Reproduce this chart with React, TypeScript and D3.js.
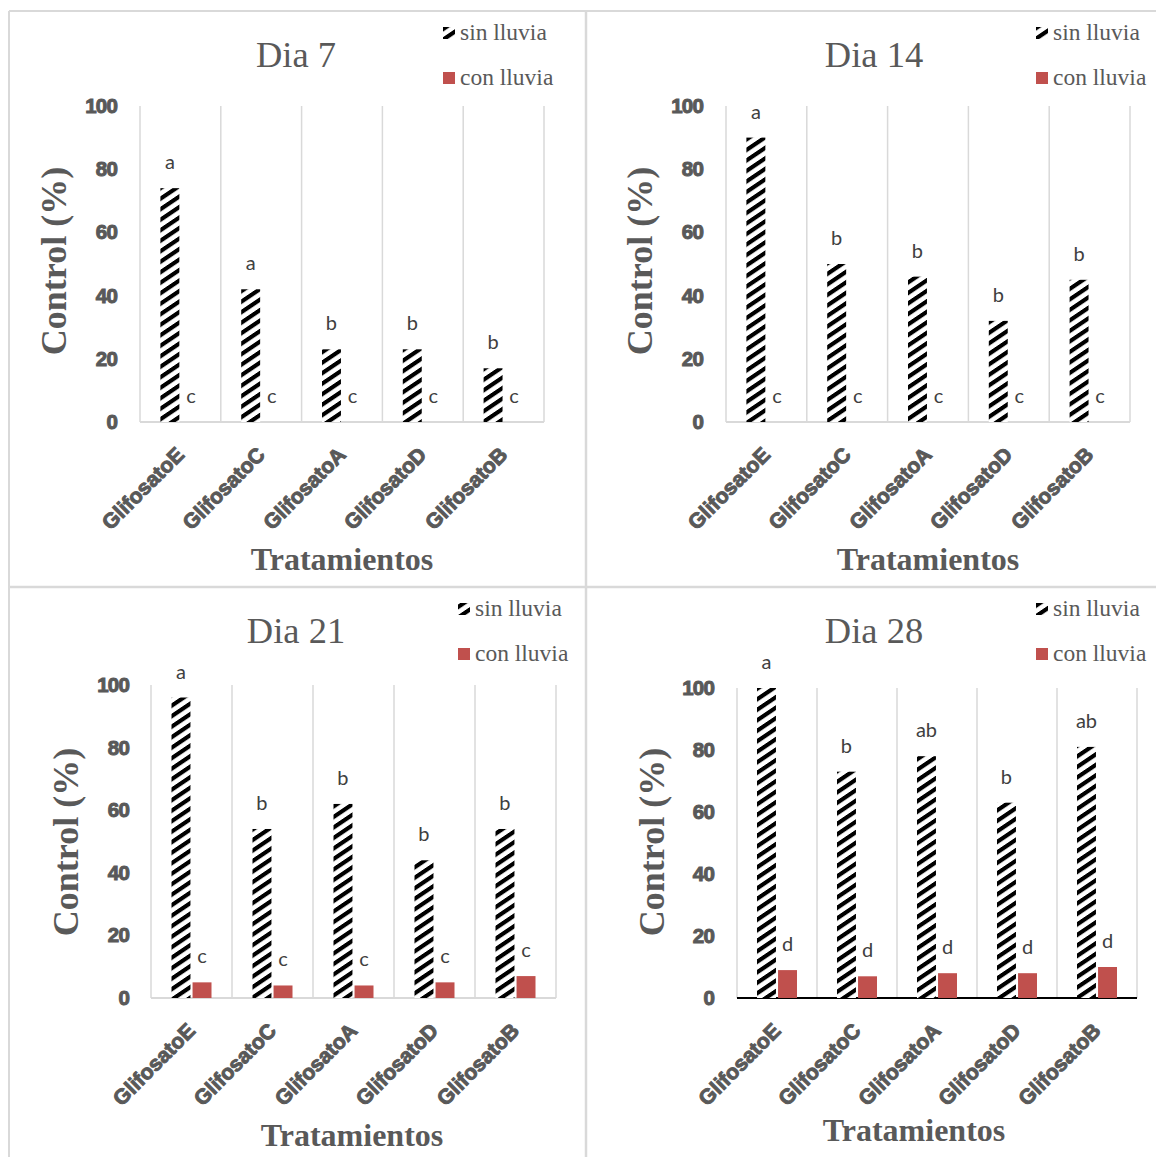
import React from "react";
import * as d3 from "d3";

const categories = ["GlifosatoE", "GlifosatoC", "GlifosatoA", "GlifosatoD", "GlifosatoB"];
const seriesNames = ["sin lluvia", "con lluvia"];
const panelTitles = ["Dia 7", "Dia 14", "Dia 21", "Dia 28"];
const yTicks = [0, 20, 40, 60, 80, 100];

const sin7 = [74, 42, 23, 23, 17];
const con7 = [0, 0, 0, 0, 0];
const sinLetters7 = ["a", "a", "b", "b", "b"];
const conLetters7 = ["c", "c", "c", "c", "c"];

const sin14 = [90, 50, 46, 32, 45];
const con14 = [0, 0, 0, 0, 0];
const sinLetters14 = ["a", "b", "b", "b", "b"];
const conLetters14 = ["c", "c", "c", "c", "c"];

const sin21 = [96, 54, 62, 44, 54];
const con21 = [5, 4, 4, 5, 7];
const sinLetters21 = ["a", "b", "b", "b", "b"];
const conLetters21 = ["c", "c", "c", "c", "c"];

const sin28 = [100, 73, 78, 63, 81];
const con28 = [9, 7, 8, 8, 10];
const sinLetters28 = ["a", "b", "ab", "b", "ab"];
const conLetters28 = ["d", "d", "d", "d", "d"];

const panelData = [
  { sin: sin7, con: con7, sinL: sinLetters7, conL: conLetters7 },
  { sin: sin14, con: con14, sinL: sinLetters14, conL: conLetters14 },
  { sin: sin21, con: con21, sinL: sinLetters21, conL: conLetters21 },
  { sin: sin28, con: con28, sinL: sinLetters28, conL: conLetters28 },
];

const layouts = [
  { x0: 140, x1: 544, yTop: 106, yBot: 422, tickX: 117, yTitleX: 66, yTitleY: 261, xTitleX: 342, xTitleY: 570, titleX: 296, titleY: 67, legX: 443, legY: [33, 78], axis: "#d9d9d9" },
  { x0: 726, x1: 1130, yTop: 106, yBot: 422, tickX: 703, yTitleX: 652, yTitleY: 261, xTitleX: 928, xTitleY: 570, titleX: 874, titleY: 67, legX: 1036, legY: [33, 78], axis: "#d9d9d9" },
  { x0: 151, x1: 556, yTop: 685, yBot: 998, tickX: 129, yTitleX: 78, yTitleY: 842, xTitleX: 352, xTitleY: 1146, titleX: 296, titleY: 643, legX: 458, legY: [609, 654], axis: "#d9d9d9" },
  { x0: 737, x1: 1137, yTop: 688, yBot: 998, tickX: 714, yTitleX: 664, yTitleY: 842, xTitleX: 914, xTitleY: 1141, titleX: 874, titleY: 643, legX: 1036, legY: [609, 654], axis: "#000000" },
];

const GRAY = "#595959";
const RED = "#c0504d";
const SERIF = "'Liberation Serif', 'Times New Roman', serif";
const SANS = "'Liberation Sans', Arial, sans-serif";
const LETTER_FONT = "Lato, 'Open Sans', sans-serif";

function Panel({ idx }: { idx: number }) {
  const L = layouts[idx];
  const D = panelData[idx];
  const x = d3.scaleBand<string>().domain(categories).range([L.x0, L.x1]).paddingInner(0).paddingOuter(0);
  const cw = x.bandwidth();
  const xs = d3.scaleBand<string>().domain(seriesNames).range([cw / 2 - 20, cw / 2 + 20]).paddingInner(0.1);
  const y = d3.scaleLinear().domain([0, 100]).range([L.yBot, L.yTop]);
  const bw = xs.bandwidth();
  const gridXs = categories.map((c) => x(c) as number).concat([L.x1]);

  return (
    <g>
      {gridXs.map((gx, i) => (
        <line key={"g" + i} x1={gx} x2={gx} y1={y(100)} y2={y(0)} stroke="#d9d9d9" strokeWidth={1.5} />
      ))}
      <line x1={L.x0} x2={L.x1} y1={y(0)} y2={y(0)} stroke={L.axis} strokeWidth={2} />
      {yTicks.map((t) => (
        <text key={"t" + t} x={L.tickX} y={y(t) + 7} textAnchor="end" fontFamily={SANS} fontWeight="bold" fontSize={20.5} fill={GRAY} stroke={GRAY} strokeWidth={1} letterSpacing={-0.8}>
          {t}
        </text>
      ))}
      {categories.map((c, i) => {
        const cx0 = x(c) as number;
        const sx = cx0 + (xs("sin lluvia") as number);
        const rx = cx0 + (xs("con lluvia") as number);
        const sv = D.sin[i];
        const rv = D.con[i];
        return (
          <g key={c}>
            <rect x={sx} y={y(sv)} width={bw} height={y(0) - y(sv)} fill="url(#hatch)" />
            {rv > 0 && <rect x={rx} y={y(rv)} width={bw} height={y(0) - y(rv)} fill={RED} />}
            <text x={sx + bw / 2} y={y(sv) - 19} textAnchor="middle" fontFamily={LETTER_FONT} fontSize={20} fill="#404040">
              {D.sinL[i]}
            </text>
            <text x={rx + bw / 2} y={y(rv) - 19} textAnchor="middle" fontFamily={LETTER_FONT} fontSize={20} fill="#404040">
              {D.conL[i]}
            </text>
            <text
              transform={`translate(${cx0 + cw / 2 + 5},${y(0) + 34}) rotate(-45)`}
              textAnchor="end"
              fontFamily={SANS}
              fontWeight="bold"
              fontSize={21}
              fill={GRAY}
              stroke={GRAY}
              strokeWidth={1}
              textLength={106}
              lengthAdjust="spacingAndGlyphs"
            >
              {c}
            </text>
          </g>
        );
      })}
      <text transform={`translate(${L.yTitleX},${L.yTitleY}) rotate(-90)`} textAnchor="middle" fontFamily={SERIF} fontWeight="bold" fontSize={36} fill={GRAY}>
        Control (%)
      </text>
      <text x={L.xTitleX} y={L.xTitleY} textAnchor="middle" fontFamily={SERIF} fontWeight="bold" fontSize={32} fill={GRAY}>
        Tratamientos
      </text>
      <text x={L.titleX} y={L.titleY} textAnchor="middle" fontFamily={SERIF} fontSize={36.5} fill={GRAY}>
        {panelTitles[idx]}
      </text>
      {seriesNames.map((s, si) => (
        <g key={s}>
          <rect x={L.legX} y={L.legY[si] - 6} width={12} height={12} fill={si === 0 ? "url(#hatch)" : RED} />
          <text x={L.legX + 17} y={L.legY[si] + 7} fontFamily={SERIF} fontSize={23.5} fill={GRAY}>
            {s}
          </text>
        </g>
      ))}
    </g>
  );
}

export default function App() {
  return (
    <div style={{ position: "absolute", left: 0, top: 0 }}>
      <svg width={1156} height={1157} style={{ display: "block", background: "#ffffff" }}>
        <defs>
          <pattern id="hatch" patternUnits="userSpaceOnUse" width={20} height={10.5} patternTransform="skewY(-34)">
            <rect x={0} y={0} width={20} height={10.5} fill="#ffffff" />
            <rect x={0} y={0} width={20} height={5} fill="#000000" />
          </pattern>
        </defs>
        <rect x={0} y={0} width={1156} height={1157} fill="#ffffff" />
        <line x1={9} x2={9} y1={11} y2={1157} stroke="#d9d9d9" strokeWidth={2} />
        <line x1={586} x2={586} y1={11} y2={1157} stroke="#d9d9d9" strokeWidth={2.5} />
        <line x1={9} x2={1156} y1={11} y2={11} stroke="#d9d9d9" strokeWidth={2} />
        <line x1={9} x2={1156} y1={587} y2={587} stroke="#d9d9d9" strokeWidth={2.5} />
        {[0, 1, 2, 3].map((i) => (
          <Panel key={i} idx={i} />
        ))}
      </svg>
    </div>
  );
}
